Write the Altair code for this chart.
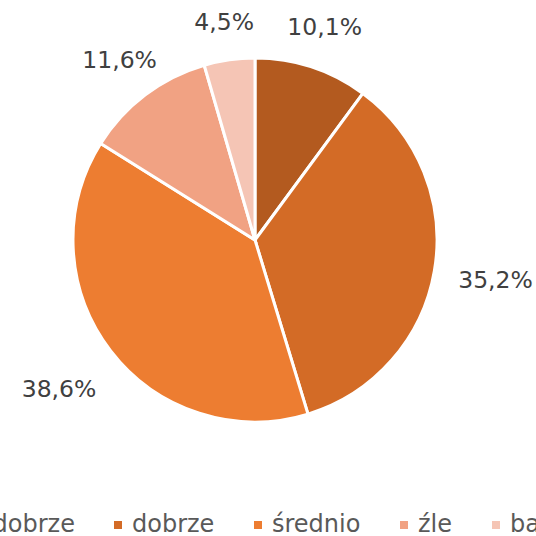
import altair as alt
import pandas as pd

categories = ["bardzo dobrze", "dobrze", "średnio", "źle", "bardzo źle"]
values = [10.1, 35.2, 38.6, 11.6, 4.5]
labels = ["10,1%", "35,2%", "38,6%", "11,6%", "4,5%"]
colors = ["#B35A1F", "#D36B26", "#ED7D31", "#F1A283", "#F5C5B5"]

df = pd.DataFrame({
    "kategoria": categories,
    "wartosc": values,
    "etykieta": labels,
    "kolejnosc": list(range(len(categories))),
})

FONT = "DejaVu Sans"

base = alt.Chart(df).encode(
    theta=alt.Theta("wartosc:Q", stack=True),
    order=alt.Order("kolejnosc:Q"),
)

pie = base.mark_arc(outerRadius=182, stroke="white", strokeWidth=3).encode(
    color=alt.Color(
        "kategoria:N",
        scale=alt.Scale(domain=categories, range=colors),
        sort=categories,
        legend=alt.Legend(
            title=None,
            orient="none",
            direction="horizontal",
            legendX=-123,
            legendY=513,
            symbolType="square",
            symbolSize=64,
            symbolStrokeWidth=0,
            labelFont=FONT,
            labelFontSize=24,
            labelColor="#595959",
            labelOffset=2,
            columnPadding=31,
            labelLimit=400,
        ),
    )
)

# label distance grows with slice size (like Excel's best-fit placement)
text = base.mark_text(font=FONT, fontSize=23.5, color="#404040").encode(
    text="etykieta:N",
    radius=alt.Radius(
        "wartosc:Q", scale=alt.Scale(domain=[0, 40], range=[215, 248], zero=False)
    ),
)

chart = (
    alt.layer(pie, text)
    .properties(
        width=510,
        height=480,
        padding={"left": 0, "top": 0, "right": 26, "bottom": 56},
        autosize=alt.AutoSizeParams(type="none"),
        background="white",
    )
    .configure_view(stroke=None)
)

chart.save("out.html", embed_options={"renderer": "svg", "actions": False})
